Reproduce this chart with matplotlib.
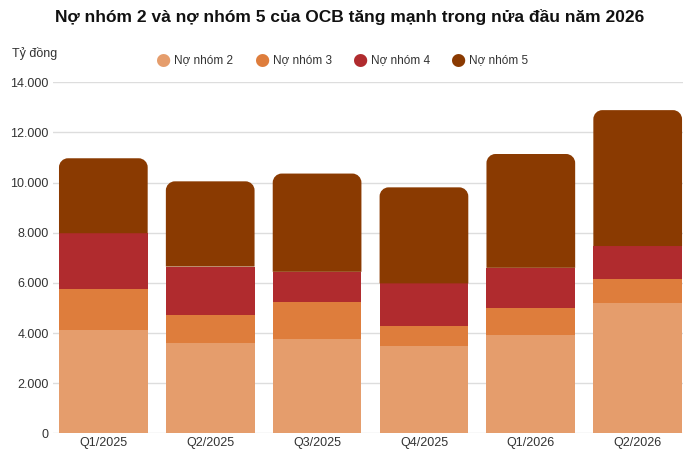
import matplotlib
matplotlib.use("Agg")
import matplotlib.pyplot as plt
from matplotlib.patches import PathPatch
from matplotlib.path import Path
import numpy as np

plt.rcParams['font.family'] = ['Liberation Sans', 'DejaVu Sans']

categories = ["Q1/2025", "Q2/2025", "Q3/2025", "Q4/2025", "Q1/2026", "Q2/2026"]
no_nhom_2 = [4120, 3590, 3750, 3480, 3920, 5210]
no_nhom_3 = [1640, 1130, 1480, 800, 1080, 960]
no_nhom_4 = [2220, 1930, 1210, 1700, 1600, 1300]
no_nhom_5 = [2990, 3400, 3920, 3830, 4540, 5420]
series_names = ["Nợ nhóm 2", "Nợ nhóm 3", "Nợ nhóm 4", "Nợ nhóm 5"]
colors = ["#E59D6C", "#DE7D3C", "#B02B2E", "#8A3A01"]
yticks = [0, 2000, 4000, 6000, 8000, 10000, 12000, 14000]
ytick_labels = ["0", "2.000", "4.000", "6.000", "8.000", "10.000", "12.000", "14.000"]

W, H = 700, 467
fig = plt.figure(figsize=(7, 4.67), dpi=100)
ax_l, ax_r, ax_t, ax_b = 53, 683, 82.3, 433.3
ax = fig.add_axes([ax_l / W, 1 - ax_b / H, (ax_r - ax_l) / W, (ax_b - ax_t) / H])

x = np.arange(len(categories))
width = 0.83
xlim = (-0.471, 5.424)
ylim = (0, 14000)
ax.set_xlim(*xlim)
ax.set_ylim(*ylim)

px_per_x = (ax_r - ax_l) / (xlim[1] - xlim[0])
px_per_y = (ax_b - ax_t) / (ylim[1] - ylim[0])
radius_px = 9
rx = radius_px / px_per_x
ry = radius_px / px_per_y
k = 0.5523


def rounded_top(x0, y0, w, h):
    x1, y1 = x0 + w, y0 + h
    verts = [
        (x0, y0), (x1, y0), (x1, y1 - ry),
        (x1, y1 - ry + k * ry), (x1 - rx + k * rx, y1), (x1 - rx, y1),
        (x0 + rx, y1),
        (x0 + rx - k * rx, y1), (x0, y1 - ry + k * ry), (x0, y1 - ry),
        (x0, y0),
    ]
    codes = [Path.MOVETO, Path.LINETO, Path.LINETO,
             Path.CURVE4, Path.CURVE4, Path.CURVE4,
             Path.LINETO,
             Path.CURVE4, Path.CURVE4, Path.CURVE4,
             Path.CLOSEPOLY]
    return Path(verts, codes)


data = [no_nhom_2, no_nhom_3, no_nhom_4, no_nhom_5]
bottoms = np.zeros(len(categories))
for i, (vals, c) in enumerate(zip(data, colors)):
    vals = np.array(vals, dtype=float)
    bars = ax.bar(x, vals, width, bottom=bottoms, color=c, zorder=3, linewidth=0)
    if i == 3:
        for b in bars:
            p = PathPatch(rounded_top(b.get_x(), b.get_y(), b.get_width(), b.get_height()),
                          facecolor=c, edgecolor="none", zorder=3)
            ax.add_patch(p)
            b.remove()
    bottoms += vals

ax.set_yticks(yticks)
ax.set_yticklabels(ytick_labels)
ax.set_xticks(x)
ax.set_xticklabels(categories)
ax.tick_params(axis='both', length=0, labelsize=9, colors="#333333")
ax.tick_params(axis='y', pad=3)
ax.tick_params(axis='x', pad=3)
ax.grid(axis='y', color="#DDDDDD", linewidth=1, zorder=0)
ax.set_axisbelow(True)
for s in ax.spines.values():
    s.set_visible(False)

fig.text(0.5, 1 - 17 / H, "Nợ nhóm 2 và nợ nhóm 5 của OCB tăng mạnh trong nửa đầu năm 2026",
         ha="center", va="center", fontsize=12.5, fontweight="bold", color="#111111")
fig.text(12 / W, 1 - 54 / H, "Tỷ đồng", ha="left", va="center", fontsize=9, color="#333333")

leg_x = [163, 262, 360, 458]
for lx, name, c in zip(leg_x, series_names, colors):
    fig.text(lx / W, 1 - 60 / H, "●", ha="center", va="center", fontsize=12.5, color=c,
             family="DejaVu Sans")
    fig.text((lx + 11) / W, 1 - 60 / H, name, ha="left", va="center", fontsize=8.5, color="#333333")

fig.savefig("out.png", dpi=100)
